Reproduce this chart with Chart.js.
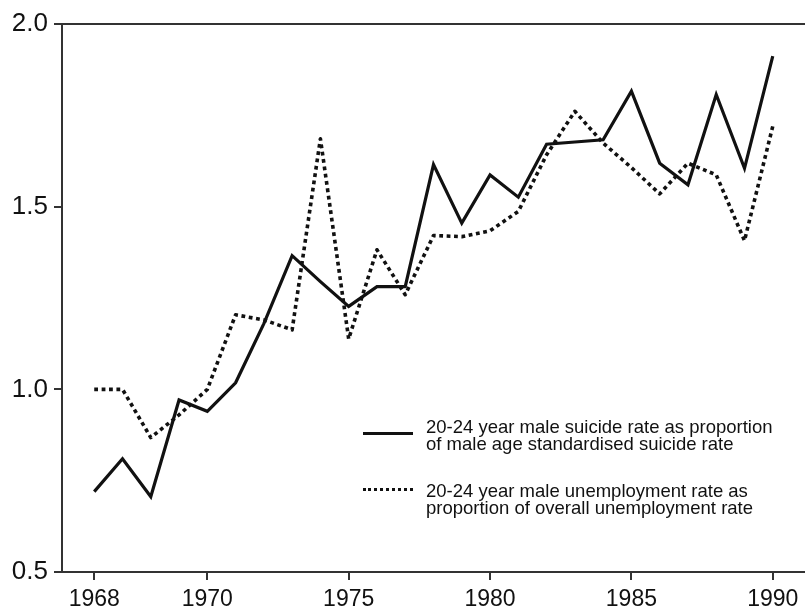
<!DOCTYPE html>
<html>
<head>
<meta charset="utf-8">
<script src="https://cdn.jsdelivr.net/npm/chart.js@4.4.1/dist/chart.umd.min.js"></script>
<style>
  html, body { margin: 0; padding: 0; background: #fff; }
  #wrap { position: relative; width: 805px; height: 610px; }
  #legend { position: absolute; left: 0; top: 0; width: 805px; height: 610px; pointer-events: none;
            font-family: "Liberation Sans", Arial, sans-serif; font-size: 18.5px; line-height: 17px; color: #111; }
  .item { position: absolute; left: 363px; }
  .sample { position: absolute; left: 0; width: 50px; height: 0; }
  .txt { position: absolute; left: 63px; white-space: nowrap; }
</style>
</head>
<body>
<div id="wrap">
  <canvas id="c" width="805" height="610"></canvas>
  <div id="legend"></div>
</div>
<script>
// Values (25 annual points, first one under the "1968" label)
const suicideRatio = [0.72, 0.81, 0.706, 0.971, 0.94, 1.018, 1.18, 1.366, 1.295, 1.227, 1.281, 1.281, 1.615,
                      1.455, 1.587, 1.526, 1.671, 1.677, 1.683, 1.816, 1.619, 1.56, 1.807, 1.605, 1.912];
const unemploymentRatio = [1.0, 1.0, 0.868, 0.93, 1.0, 1.204, 1.19, 1.163, 1.686, 1.138, 1.382, 1.259, 1.421,
                           1.418, 1.434, 1.487, 1.642, 1.761, 1.674, 1.607, 1.535, 1.619, 1.587, 1.407, 1.72];
const xTickPoints = [0, 4, 9, 14, 19, 24];
const xTickLabels = ['1968', '1970', '1975', '1980', '1985', '1990'];
const yTicks = [0.5, 1.0, 1.5, 2.0];
const suicideLabel = ['20-24 year male suicide rate as proportion', 'of male age standardised suicide rate'];
const unemploymentLabel = ['20-24 year male unemployment rate as', 'proportion of overall unemployment rate'];

const toPoints = arr => arr.map((v, i) => ({ x: i, y: v }));

const topLine = {
  id: 'topLine',
  afterDraw(chart) {
    const { ctx, chartArea } = chart;
    ctx.save();
    ctx.strokeStyle = '#333';
    ctx.lineWidth = 2;
    ctx.beginPath();
    ctx.moveTo(chartArea.left - 8, chartArea.top);
    ctx.lineTo(chartArea.right, chartArea.top);
    ctx.stroke();
    ctx.restore();
  }
};

new Chart(document.getElementById('c'), {
  type: 'line',
  data: {
    datasets: [
      { label: suicideLabel.join(' '), data: toPoints(suicideRatio), borderColor: '#111', borderWidth: 3.2,
        pointRadius: 0, tension: 0, fill: false, borderJoinStyle: 'miter' },
      { label: unemploymentLabel.join(' '), data: toPoints(unemploymentRatio), borderColor: '#111', borderWidth: 3.6,
        borderDash: [3.8, 3.6], borderCapStyle: 'butt', borderJoinStyle: 'round', pointRadius: 0, tension: 0, fill: false }
    ]
  },
  options: {
    responsive: false,
    animation: false,
    layout: { padding: { top: 24, right: 0, left: 0, bottom: 0 } },
    plugins: { legend: { display: false }, tooltip: { enabled: false } },
    scales: {
      x: {
        type: 'linear', min: -1.14, max: 25.14,
        afterBuildTicks: s => { s.ticks = xTickPoints.map(v => ({ value: v })); },
        afterFit: s => { s.height = 38; },
        ticks: {
          autoSkip: false, maxRotation: 0, padding: 6, color: '#111',
          font: { family: '"Liberation Sans", Arial, sans-serif', size: 23 },
          callback: (v) => { const k = xTickPoints.indexOf(v); return k >= 0 ? xTickLabels[k] : ''; }
        },
        grid: { display: true, drawOnChartArea: false, drawTicks: true, tickLength: 8, color: '#333', lineWidth: 2 },
        border: { display: true, color: '#333', width: 2 }
      },
      y: {
        type: 'linear', min: 0.5, max: 2.0,
        afterBuildTicks: s => { s.ticks = yTicks.map(v => ({ value: v })); },
        afterFit: s => { s.width = 62; },
        ticks: {
          padding: 6, color: '#111',
          font: { family: '"Liberation Sans", Arial, sans-serif', size: 26 },
          callback: v => Number(v).toFixed(1)
        },
        grid: { display: true, drawOnChartArea: false, drawTicks: true, tickLength: 8, color: '#333', lineWidth: 2 },
        border: { display: true, color: '#333', width: 2 }
      }
    }
  },
  plugins: [topLine]
});

// HTML legend built from the series labels
const legend = document.getElementById('legend');
function addItem(lines, top, sampleTop, style) {
  const item = document.createElement('div');
  item.className = 'item';
  item.style.top = top + 'px';
  const s = document.createElement('div');
  s.className = 'sample';
  s.style.top = sampleTop + 'px';
  s.style.borderTop = style;
  item.appendChild(s);
  const t = document.createElement('div');
  t.className = 'txt';
  t.innerHTML = lines.join('<br>');
  item.appendChild(t);
  legend.appendChild(item);
}
addItem(suicideLabel, 418, 13.5, '3px solid #111');
addItem(unemploymentLabel, 481.5, 6, '3px dotted #111');
</script>
</body>
</html>
